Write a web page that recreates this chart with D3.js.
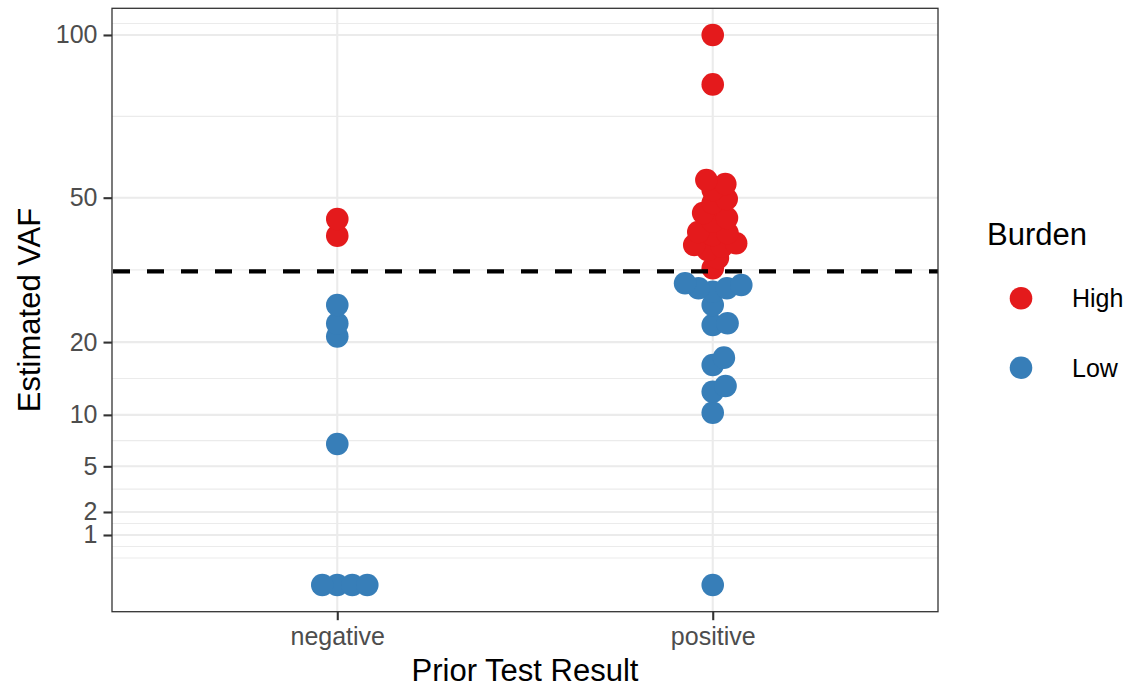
<!DOCTYPE html>
<html>
<head>
<meta charset="utf-8">
<script src="https://cdn.jsdelivr.net/npm/d3@7"></script>
<style>
  body { margin: 0; background: #fff; }
  svg { display: block; font-family: "Liberation Sans", Arial, Helvetica, sans-serif; }
</style>
</head>
<body>
<div id="chart"></div>
<script>
// Valori (VAF stimata per gruppo e carico)
const categories = ["negative", "positive"];
const burdenLevels = ["High", "Low"];
const burdenColors = ["#E41A1C", "#377EB8"];
const threshold = 33;
const yTicks = [1, 2, 5, 10, 20, 50, 100];

const negativeLow = [0.01, 0.01, 0.01, 0.01, 6.96, 20.9, 23.1, 26.4];
const negativeHigh = [40.8, 44.7];
const positiveLow = [0.01, 10.25, 12.81, 13.56, 16.48, 17.57, 22.85, 23.14, 26.4, 28.93, 29.6, 29.6, 30.25, 30.58];
const positiveHigh = [33.64, 35.83, 37.57, 38.3, 38.69, 39.07, 40.96, 41.42, 41.65, 44.13, 44.97,
  46.18, 48.66, 49.67, 51.98, 53.55, 54.6, 83.0, 100];

// Dimensioni
const width = 1130;
const height = 690;
const panel = { left: 112, right: 938, top: 8.3, bottom: 611.7 };

const svg = d3.select("#chart")
  .append("svg")
  .attr("width", width)
  .attr("height", height);

// Scale: asse y in radice quadrata (come scale_y_sqrt)
const x = d3.scalePoint()
  .domain(categories)
  .range([panel.left, panel.right])
  .padding(0.6);

const y = d3.scalePow().exponent(0.5)
  .domain([-0.1448, 109.83])
  .range([panel.bottom, panel.top]);

// Minor breaks alla ggplot (nello spazio trasformato)
const sqrtDomain = y.domain().map(v => Math.sign(v) * Math.sqrt(Math.abs(v)));
let b = yTicks.map(Math.sqrt);
const bd = b[1] - b[0];
if (sqrtDomain[0] < b[0]) b = [b[0] - bd, ...b];
if (sqrtDomain[1] > b[b.length - 1]) b = [...b, b[b.length - 1] + bd];
const minorBreaks = [];
for (let i = 0; i < b.length - 1; i++) {
  minorBreaks.push(b[i], (b[i] + b[i + 1]) / 2);
}
const minorValues = minorBreaks
  .filter(s => s > sqrtDomain[0] && s < sqrtDomain[1])
  .map(s => s * s);

// Griglia
const grid = svg.append("g");
grid.selectAll("line.minor")
  .data(minorValues)
  .enter().append("line")
  .attr("class", "minor")
  .attr("x1", panel.left).attr("x2", panel.right)
  .attr("y1", d => y(d)).attr("y2", d => y(d))
  .attr("stroke", "#EBEBEB")
  .attr("stroke-width", 1.1);

grid.selectAll("line.major")
  .data(yTicks)
  .enter().append("line")
  .attr("class", "major")
  .attr("x1", panel.left).attr("x2", panel.right)
  .attr("y1", d => y(d)).attr("y2", d => y(d))
  .attr("stroke", "#EBEBEB")
  .attr("stroke-width", 2.1);

grid.selectAll("line.vmajor")
  .data(categories)
  .enter().append("line")
  .attr("class", "vmajor")
  .attr("x1", d => x(d)).attr("x2", d => x(d))
  .attr("y1", panel.top).attr("y2", panel.bottom)
  .attr("stroke", "#EBEBEB")
  .attr("stroke-width", 2.1);

// Beeswarm (metodo "swarm", priorita' ascendente, come beeswarm::swarmx)
const sx = 15;  // px per unita' laterale
const sy = 11;  // px per unita' verticale
function swarmOffsets(values) {
  const pts = values.map((v, i) => ({ i, v: (panel.bottom - y(v)) / sy, off: 0 }));
  const order = d3.range(pts.length).sort((a, b) => pts[a].v - pts[b].v || a - b);
  const placed = [];
  order.forEach(idx => {
    const p = pts[idx];
    let pre = placed.filter(q => p.v - q.v < 1);
    if (pre.length) {
      pre = pre.map((q, k) => ({ q, k }))
        .sort((a, b) => Math.abs(a.q.off) - Math.abs(b.q.off) || a.k - b.k)
        .map(d => d.q);
      const up = pre.map(q => q.off + Math.sqrt(1 - (p.v - q.v) ** 2));
      const down = pre.map(q => q.off - Math.sqrt(1 - (p.v - q.v) ** 2));
      const cand = [0, ...up, ...down];
      let best = 0, bestAbs = Infinity;
      cand.forEach(c => {
        const bad = pre.some(q => (p.v - q.v) ** 2 + (c - q.off) ** 2 < 0.999);
        if (!bad && Math.abs(c) < bestAbs) { best = c; bestAbs = Math.abs(c); }
      });
      p.off = best;
    }
    placed.push(p);
  });
  return pts.map(p => p.off);
}

const groups = [
  { cat: "negative", low: negativeLow, high: negativeHigh },
  { cat: "positive", low: positiveLow, high: positiveHigh }
];
const points = [];
groups.forEach(g => {
  const rows = [
    ...g.low.map(v => ({ cat: g.cat, value: v, burden: "Low" })),
    ...g.high.map(v => ({ cat: g.cat, value: v, burden: "High" }))
  ];
  const offs = swarmOffsets(rows.map(r => r.value));
  rows.forEach((r, i) => { r.off = offs[i]; points.push(r); });
});

const color = d3.scaleOrdinal().domain(burdenLevels).range(burdenColors);

svg.append("g")
  .selectAll("circle")
  .data(points)
  .enter().append("circle")
  .attr("cx", d => x(d.cat) + d.off * sx)
  .attr("cy", d => y(d.value))
  .attr("r", 11.3)
  .attr("fill", d => color(d.burden));

// Linea di soglia tratteggiata
svg.append("line")
  .attr("x1", panel.left).attr("x2", panel.right)
  .attr("y1", y(threshold)).attr("y2", y(threshold))
  .attr("stroke", "#000")
  .attr("stroke-width", 4.3)
  .attr("stroke-dasharray", "17,17")
  .attr("stroke-dashoffset", -1);

// Bordo del pannello
svg.append("rect")
  .attr("x", panel.left).attr("y", panel.top)
  .attr("width", panel.right - panel.left)
  .attr("height", panel.bottom - panel.top)
  .attr("fill", "none")
  .attr("stroke", "#333333")
  .attr("stroke-width", 1.3);

// Assi
const yAxis = svg.append("g")
  .attr("transform", `translate(${panel.left},0)`)
  .call(d3.axisLeft(y).tickValues(yTicks).tickSize(8.5).tickPadding(6).tickFormat(d3.format("d")));
const xAxis = svg.append("g")
  .attr("transform", `translate(0,${panel.bottom})`)
  .call(d3.axisBottom(x).tickSize(8.5).tickPadding(7.5));

[yAxis, xAxis].forEach(a => {
  a.select(".domain").remove();
  a.selectAll(".tick line").attr("stroke", "#333333").attr("stroke-width", 2.1);
  a.selectAll(".tick text")
    .attr("fill", "#4D4D4D")
    .style("font-size", "25px")
    .style("font-family", "'Liberation Sans', Arial, sans-serif");
});

// Titoli degli assi
svg.append("text")
  .attr("x", (panel.left + panel.right) / 2)
  .attr("y", 681)
  .attr("text-anchor", "middle")
  .style("font-size", "31px")
  .text("Prior Test Result");

svg.append("text")
  .attr("transform", `translate(40,${(panel.top + panel.bottom) / 2}) rotate(-90)`)
  .attr("text-anchor", "middle")
  .style("font-size", "31px")
  .text("Estimated VAF");

// Legenda
const legend = svg.append("g");
legend.append("text")
  .attr("x", 987)
  .attr("y", 245)
  .style("font-size", "31px")
  .text("Burden");

const keys = legend.selectAll("g.key")
  .data(burdenLevels)
  .enter().append("g")
  .attr("class", "key")
  .attr("transform", (d, i) => `translate(0,${298.3 + i * 69.4})`);

keys.append("circle")
  .attr("cx", 1021)
  .attr("cy", 0)
  .attr("r", 11.3)
  .attr("fill", d => color(d));

keys.append("text")
  .attr("x", 1072)
  .attr("y", 0)
  .attr("dy", "0.36em")
  .style("font-size", "25px")
  .text(d => d);
</script>
</body>
</html>
